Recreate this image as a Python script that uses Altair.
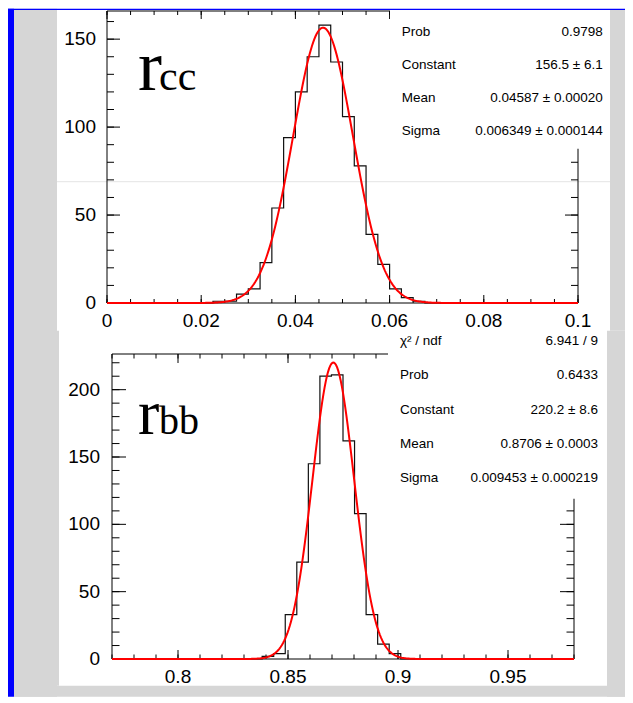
import altair as alt
import pandas as pd

# ---------------- data ----------------
# r_cc : 40 bins between 0 and 0.1
rcc_range = [0.0, 0.1]
rcc_counts = [0, 0, 0, 0, 0, 0, 0, 0, 0, 1,
              1, 5, 8, 23, 54, 94, 120, 140, 158, 137,
              106, 78, 39, 22, 8, 3, 1, 0, 0, 0,
              0, 0, 0, 0, 0, 0, 0, 0, 0, 0]
rcc_fit = [156.5, 0.04587, 0.006349]          # Constant, Mean, Sigma (stats box)
rcc_stat_names = ["Prob", "Constant", "Mean", "Sigma"]
rcc_stat_values = ["0.9798", "156.5 \u00b1 6.1", "0.04587 \u00b1 0.00020",
                   "0.006349 \u00b1 0.000144"]
rcc_x_major = [0.0, 0.02, 0.04, 0.06, 0.08, 0.1]
rcc_x_labels = ["0", "0.02", "0.04", "0.06", "0.08", "0.1"]
rcc_x_minor = [round(0.005 * i, 4) for i in range(21)]
rcc_y_major = [0, 50, 100, 150]
rcc_y_labels = ["0", "50", "100", "150"]
rcc_y_minor = list(range(0, 170, 10))
rcc_ymax = 166

# r_bb : 40 bins between 0.77 and 0.98
rbb_range = [0.77, 0.98]
rbb_counts = [0, 0, 0, 0, 0, 0, 0, 0, 0, 0,
              0, 0, 0, 2, 4, 33, 72, 145, 210, 211,
              162, 108, 33, 11, 4, 0, 0, 0, 0, 0,
              0, 0, 0, 0, 0, 0, 0, 0, 0, 0]
rbb_fit = [220.2, 0.8706, 0.009453]
rbb_stat_names = ["\u03c7\u00b2 / ndf", "Prob", "Constant", "Mean", "Sigma"]
rbb_stat_values = ["6.941 / 9", "0.6433", "220.2 \u00b1 8.6", "0.8706 \u00b1 0.0003",
                   "0.009453 \u00b1 0.000219"]
rbb_x_major = [0.8, 0.85, 0.9, 0.95]
rbb_x_labels = ["0.8", "0.85", "0.9", "0.95"]
rbb_x_minor = [round(0.77 + 0.01 * i, 2) for i in range(22)]
rbb_y_major = [0, 50, 100, 150, 200]
rbb_y_labels = ["0", "50", "100", "150", "200"]
rbb_y_minor = list(range(0, 230, 10))
rbb_ymax = 226.5

# ---------------- styling ----------------
FONT = "Liberation Sans"
SERIF = "Liberation Serif"
GREY = "#d6d6d6"
BLUE = "#0000ff"
one = pd.DataFrame({"k": [0]})


def deco_rect(x, x2, y, y2, color):
    return alt.Chart(one).mark_rect(color=color).encode(
        x=alt.value(x), x2=alt.value(x2), y=alt.value(y), y2=alt.value(y2))


def text_at(txt, x, y, size, align="left", baseline="middle", font=FONT):
    return alt.Chart(one).mark_text(
        text=txt, font=font, fontSize=size, align=align, baseline=baseline,
        color="black").encode(x=alt.value(x), y=alt.value(y))


def panel(counts, rng, ymax, fit, xoff, W, H, x_major, x_labels, x_minor,
          y_major, y_labels, y_minor, xt, yt, xlab_pad, ylab_pad,
          names, values, st_left, st_right, st_y0, st_step,
          box, main_txt, sub_txt, r_size, sub_size, lab_x, sub_x, lab_y, pre):
    nb = len(counts)
    w = (rng[1] - rng[0]) / nb
    edges = [rng[0] + k * w for k in range(nb + 1)]
    hist = pd.DataFrame({"x": edges, "n": counts + [counts[-1]]})
    xs = alt.Scale(domain=rng, range=[xoff, xoff + W], nice=False, zero=False)
    ys = alt.Scale(domain=[0, ymax], nice=False, zero=False)

    layers = list(pre)

    # frame
    layers.append(alt.Chart(one).mark_rect(filled=False, color="black", strokeWidth=1).encode(
        x=alt.value(xoff), x2=alt.value(xoff + W), y=alt.value(0), y2=alt.value(H)))
    # ticks (ROOT style, inside the frame, on all four sides)
    for vals, L in [(x_major, xt[0]), (x_minor, xt[1])]:
        d = pd.DataFrame({"v": vals})
        layers.append(alt.Chart(d).mark_rule(color="black", strokeWidth=1).encode(
            x=alt.X("v:Q", scale=xs, axis=None), y=alt.value(H), y2=alt.value(H - L)))
        layers.append(alt.Chart(d).mark_rule(color="black", strokeWidth=1).encode(
            x=alt.X("v:Q", scale=xs, axis=None), y=alt.value(0), y2=alt.value(L)))
    for vals, L in [(y_major, yt[0]), (y_minor, yt[1])]:
        d = pd.DataFrame({"v": vals})
        layers.append(alt.Chart(d).mark_rule(color="black", strokeWidth=1).encode(
            y=alt.Y("v:Q", scale=ys, axis=None), x=alt.value(xoff), x2=alt.value(xoff + L)))
        layers.append(alt.Chart(d).mark_rule(color="black", strokeWidth=1).encode(
            y=alt.Y("v:Q", scale=ys, axis=None), x=alt.value(xoff + W), x2=alt.value(xoff + W - L)))

    # tick labels
    layers.append(alt.Chart(pd.DataFrame({"v": x_major, "t": x_labels})).mark_text(
        font=FONT, fontSize=19, align="center", baseline="top", color="black").encode(
        x=alt.X("v:Q", scale=xs, axis=None), y=alt.value(H + xlab_pad), text="t:N"))
    layers.append(alt.Chart(pd.DataFrame({"v": y_major, "t": y_labels})).mark_text(
        font=FONT, fontSize=19, align="right", baseline="middle", color="black").encode(
        y=alt.Y("v:Q", scale=ys, axis=None), x=alt.value(xoff - ylab_pad), text="t:N"))

    # histogram outline
    layers.append(alt.Chart(hist).mark_line(
        interpolate="step-after", color="#111111", strokeWidth=1.2).encode(
        x=alt.X("x:Q", scale=xs, axis=None),
        y=alt.Y("n:Q", scale=ys, axis=None)))

    # Gaussian fit drawn from the fitted parameters shown in the stats box
    A, m, s = fit
    npts = 400
    layers.append(alt.Chart(alt.sequence(0, npts + 1, as_="i")).transform_calculate(
        x=f"{rng[0]} + datum.i * {(rng[1] - rng[0]) / npts}",
        f=f"{A} * exp(-0.5 * pow((datum.x - {m}) / {s}, 2))",
    ).mark_line(color="#ff0000", strokeWidth=2).encode(
        x=alt.X("x:Q", scale=xs, axis=None), y=alt.Y("f:Q", scale=ys, axis=None)))

    # stats box
    layers.append(deco_rect(box[0], box[1], box[2], box[3], "white"))
    for i, (nm, vl) in enumerate(zip(names, values)):
        yy = st_y0 + i * st_step
        layers.append(text_at(nm, st_left, yy, 13.5))
        layers.append(text_at(vl, st_right, yy, 13.5, align="right"))

    # big label
    layers.append(text_at(main_txt, lab_x, lab_y, r_size, baseline="alphabetic", font=SERIF))
    layers.append(text_at(sub_txt, sub_x, lab_y, sub_size, baseline="alphabetic", font=SERIF))

    return alt.layer(*layers).properties(width=xoff + W, height=H)


# decorations in top-panel coordinates (origin at the top frame's top-left corner)
pre_top = [
    deco_rect(-93, -50, -2.3, 685.7, GREY),       # left grey margin
    deco_rect(-99, -93, -2.3, 685.7, BLUE),       # left blue bar
    deco_rect(-99, 518, -2.3, -1.0, BLUE),        # top blue line
    deco_rect(503, 518, -1.0, 319.7, GREY),       # right grey (top panel)
    deco_rect(500, 518, 319.7, 685.7, GREY),      # right grey (bottom panel)
    deco_rect(-93, 518, 674.7, 685.7, GREY),      # bottom grey
    deco_rect(-50, -48, 319.7, 674.7, GREY),      # sliver left of bottom panel
    alt.Chart(one).mark_rule(color="#e4e4e4", strokeWidth=1).encode(
        x=alt.value(-50), x2=alt.value(503), y=alt.value(170.7)),
]

top = panel(rcc_counts, rcc_range, rcc_ymax, rcc_fit, 0, 471, 292,
            rcc_x_major, rcc_x_labels, rcc_x_minor,
            rcc_y_major, rcc_y_labels, rcc_y_minor,
            (8, 4), (13, 7), 9, 11,
            rcc_stat_names, rcc_stat_values, 294.7, 495.7, 21.4, 32.8,
            (283, 503, -1.0, 137.7), "r", "cc", 72, 42, 31, 52, 78.7, pre_top)

bottom = panel(rbb_counts, rbb_range, rbb_ymax, rbb_fit, 5, 462, 305,
               rbb_x_major, rbb_x_labels, rbb_x_minor,
               rbb_y_major, rbb_y_labels, rbb_y_minor,
               (9, 4.5), (14, 7.5), 8.5, 12,
               rbb_stat_names, rbb_stat_values, 293, 491, -13.3, 34.4,
               (281, 500, -23.3, 144.7), "r", "bb", 64, 40, 31, 52, 79.7, [])

chart = alt.vconcat(top, bottom, spacing=51, bounds="flush").properties(
    padding=0, background="white").configure_view(strokeWidth=0)

chart.save("out.html", embed_options={"renderer": "svg", "actions": False})
